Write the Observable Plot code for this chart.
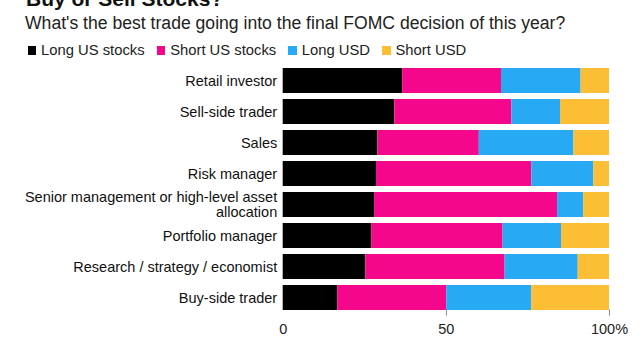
<!DOCTYPE html>
<html>
<head>
<meta charset="utf-8">
<script src="https://cdn.jsdelivr.net/npm/d3@7"></script>
<script src="https://cdn.jsdelivr.net/npm/@observablehq/plot@0.6"></script>
<style>
  body { margin: 0; background: #fff; }
  #wrap { position: relative; width: 640px; height: 350px; overflow: hidden; font-family: "Liberation Sans", Arial, sans-serif; color: #111; }
  #title { position: absolute; left: 26px; top: -12.3px; font-size: 21px; line-height: 21px; font-weight: bold; white-space: nowrap; }
  #subtitle { position: absolute; left: 25px; top: 15.2px; font-size: 17.6px; line-height: 17.6px; color: #222; white-space: nowrap; }
  #legend { position: absolute; left: 27.5px; top: 43px; font-size: 14.8px; line-height: 14.8px; color: #222; display: flex; align-items: center; white-space: nowrap; }
  #legend .item { display: flex; align-items: center; margin-right: 12px; }
  #legend .sw { width: 8.5px; height: 8.5px; margin-right: 5px; }
  #chart { position: absolute; left: 0; top: 60px; }
</style>
</head>
<body>
<div id="wrap">
  <div id="title">Buy or Sell Stocks?</div>
  <div id="subtitle">What's the best trade going into the final FOMC decision of this year?</div>
  <div id="legend"></div>
  <div id="chart"></div>
</div>
<script>
const categories = [
  "Retail investor",
  "Sell-side trader",
  "Sales",
  "Risk manager",
  "Senior management or high-level asset allocation",
  "Portfolio manager",
  "Research / strategy / economist",
  "Buy-side trader"
];
const series = ["Long US stocks", "Short US stocks", "Long USD", "Short USD"];
const colors = ["#000000", "#f5078b", "#27a9f3", "#fbbe34"];

const longStocks  = [36.6, 34.2, 29.0, 28.6, 28.0, 27.1, 25.3, 16.7];
const shortStocks = [30.3, 35.9, 31.1, 47.6, 56.1, 40.3, 42.7, 33.4];
const longUSD     = [24.4, 14.9, 29.0, 19.0,  8.0, 17.9, 22.4, 26.1];
const shortUSD    = [ 8.7, 15.0, 10.9,  4.8,  7.9, 14.7,  9.6, 23.8];

const xTicks = [0, 50, 100];
const xTickLabels = ["0", "50", "100%"];
const labelBreaks = {"Senior management or high-level asset allocation": "Senior management or high-level asset\nallocation"};

const seriesValues = [longStocks, shortStocks, longUSD, shortUSD];
const data = [];
categories.forEach((c, i) => {
  series.forEach((s, j) => data.push({category: c, series: s, value: seriesValues[j][i]}));
});

// legend
const legend = document.getElementById("legend");
series.forEach((s, j) => {
  const item = document.createElement("div");
  item.className = "item";
  const sw = document.createElement("div");
  sw.className = "sw";
  sw.style.background = colors[j];
  const t = document.createElement("span");
  t.textContent = s;
  item.appendChild(sw);
  item.appendChild(t);
  legend.appendChild(item);
});

const chart = Plot.plot({
  width: 640,
  height: 290,
  marginLeft: 282.7,
  marginRight: 31,
  marginTop: 7.3,
  marginBottom: 40.4,
  style: {fontFamily: "'Liberation Sans', Arial, sans-serif", fontSize: "14.5px", color: "#222", background: "transparent"},
  x: {domain: [0, 100]},
  y: {domain: categories, paddingInner: 0.2, paddingOuter: 0},
  color: {domain: series, range: colors},
  marks: [
    Plot.barX(data, Plot.stackX({x: "value", y: "category", fill: "series", order: null})),
    Plot.axisX({ticks: xTicks.filter(d => d > 0), tickSize: 6, stroke: "#888", text: null, label: null}),
    Plot.axisX({ticks: xTicks, tickSize: 0, tickPadding: 14, tickFormat: (d) => xTickLabels[xTicks.indexOf(d)], label: null, fill: "#222"}),
    Plot.axisY({tickSize: 0, tickPadding: 6, lineHeight: 0.98, tickFormat: (d) => labelBreaks[d] || d, label: null, fill: "#111"})
  ]
});
document.getElementById("chart").appendChild(chart);
</script>
</body>
</html>
